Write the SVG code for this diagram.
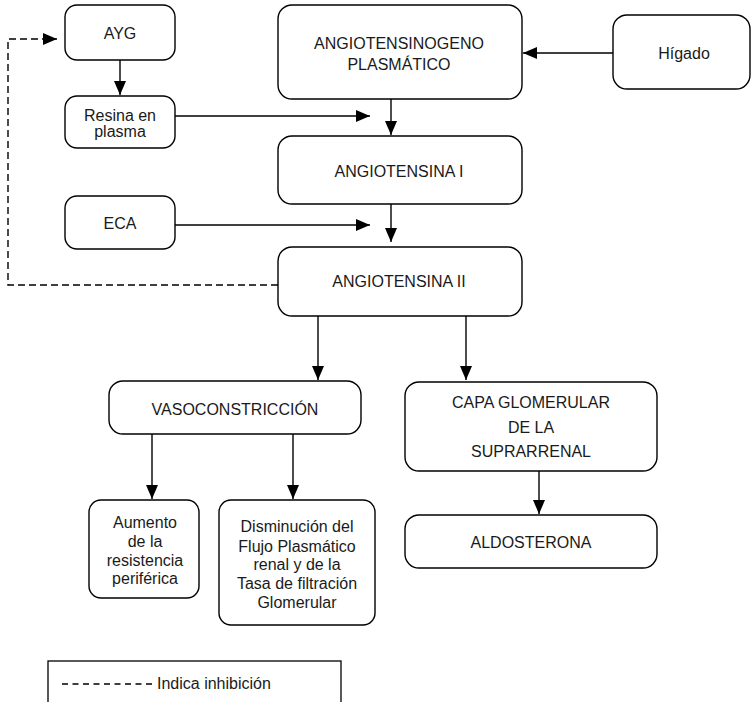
<svg xmlns="http://www.w3.org/2000/svg" width="751" height="702" viewBox="0 0 751 702">
  <style>
    .box { fill: #fff; stroke: #000; stroke-width: 1.4; }
    .t { font-family: "Liberation Sans", Arial, sans-serif; font-size: 16px; fill: #1a1a1a; text-anchor: middle; }
    .c { fill: none; stroke: #000; stroke-width: 1.4; }
    .dash { stroke-dasharray: 7 4; }
  </style>
  <defs>
    <marker id="arrow" viewBox="0 0 14 12" refX="14" refY="6" markerWidth="14" markerHeight="12" markerUnits="userSpaceOnUse" orient="auto">
      <path d="M0,0 L14,6 L0,12 Z" fill="#000"/>
    </marker>
  </defs>
  <rect width="751" height="702" fill="#fff"/>

  <g id="connectors">
    <line class="c" x1="120" y1="60" x2="120" y2="95" marker-end="url(#arrow)"/>
    <line class="c" x1="175" y1="116" x2="370" y2="116" marker-end="url(#arrow)"/>
    <line class="c" x1="613" y1="53" x2="523" y2="53" marker-end="url(#arrow)"/>
    <line class="c" x1="391" y1="99" x2="391" y2="135" marker-end="url(#arrow)"/>
    <line class="c" x1="175" y1="225" x2="370" y2="225" marker-end="url(#arrow)"/>
    <line class="c" x1="391" y1="204" x2="391" y2="242" marker-end="url(#arrow)"/>
    <polyline class="c dash" points="278,285 8,285 8,39 57,39" marker-end="url(#arrow)"/>
    <line class="c" x1="318" y1="316" x2="318" y2="380" marker-end="url(#arrow)"/>
    <line class="c" x1="466" y1="316" x2="466" y2="380" marker-end="url(#arrow)"/>
    <line class="c" x1="152" y1="434" x2="152" y2="499" marker-end="url(#arrow)"/>
    <line class="c" x1="293" y1="434" x2="293" y2="499" marker-end="url(#arrow)"/>
    <line class="c" x1="539" y1="471" x2="539" y2="514" marker-end="url(#arrow)"/>
  </g>

  <g id="ayg">
    <rect class="box" x="65" y="5" width="110" height="55" rx="12"/>
    <text class="t" x="120" y="39">AYG</text>
  </g>
  <g id="resina">
    <rect class="box" x="65" y="96" width="110" height="52" rx="12"/>
    <text class="t" x="120" y="121">Resina en</text>
    <text class="t" x="120" y="137">plasma</text>
  </g>
  <g id="angiotensinogeno">
    <rect class="box" x="278" y="5" width="244" height="94" rx="14"/>
    <text class="t" x="399" y="49">ANGIOTENSINOGENO</text>
    <text class="t" x="399" y="70">PLASMÁTICO</text>
  </g>
  <g id="higado">
    <rect class="box" x="613" y="15" width="137" height="74" rx="14"/>
    <text class="t" x="684" y="59">Hígado</text>
  </g>
  <g id="angiotensina-i">
    <rect class="box" x="278" y="136" width="244" height="68" rx="14"/>
    <text class="t" x="399" y="177">ANGIOTENSINA I</text>
  </g>
  <g id="eca">
    <rect class="box" x="65" y="196" width="110" height="53" rx="12"/>
    <text class="t" x="120" y="229">ECA</text>
  </g>
  <g id="angiotensina-ii">
    <rect class="box" x="278" y="247" width="244" height="69" rx="14"/>
    <text class="t" x="399" y="287">ANGIOTENSINA II</text>
  </g>
  <g id="vasoconstriccion">
    <rect class="box" x="109" y="381" width="252" height="53" rx="14"/>
    <text class="t" x="235" y="415">VASOCONSTRICCIÓN</text>
  </g>
  <g id="capa-glomerular">
    <rect class="box" x="405" y="382" width="252" height="89" rx="14"/>
    <text class="t" x="531" y="408">CAPA GLOMERULAR</text>
    <text class="t" x="531" y="433">DE LA</text>
    <text class="t" x="531" y="457">SUPRARRENAL</text>
  </g>
  <g id="aumento">
    <rect class="box" x="89" y="500" width="110" height="98" rx="12"/>
    <text class="t" x="145" y="528">Aumento</text>
    <text class="t" x="145" y="547">de la</text>
    <text class="t" x="145" y="566">resistencia</text>
    <text class="t" x="145" y="584">periférica</text>
  </g>
  <g id="disminucion">
    <rect class="box" x="219" y="500" width="156" height="125" rx="12"/>
    <text class="t" x="297" y="532">Disminución del</text>
    <text class="t" x="297" y="552">Flujo Plasmático</text>
    <text class="t" x="297" y="570">renal y de la</text>
    <text class="t" x="297" y="589">Tasa de filtración</text>
    <text class="t" x="297" y="608">Glomerular</text>
  </g>
  <g id="aldosterona">
    <rect class="box" x="405" y="515" width="252" height="53" rx="14"/>
    <text class="t" x="531" y="548">ALDOSTERONA</text>
  </g>

  <g id="leyenda">
    <rect x="48" y="661" width="293" height="60" fill="none" stroke="#000" stroke-width="1.3"/>
    <line class="c" x1="62" y1="684" x2="156" y2="684" stroke-width="1.2" stroke-dasharray="6 4.5"/>
    <text class="t" x="157" y="689" style="text-anchor:start">Indica inhibición</text>
  </g>
</svg>
